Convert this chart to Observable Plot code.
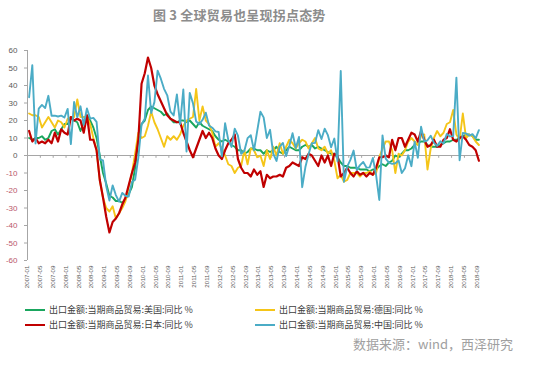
<!DOCTYPE html>
<html><head><meta charset="utf-8">
<script src="https://cdn.jsdelivr.net/npm/d3@7"></script>
<script src="https://cdn.jsdelivr.net/npm/@observablehq/plot@0.6"></script>
<style>
body{margin:0;background:#fff;}
#wrap{position:relative;width:550px;height:369px;overflow:hidden;background:#fff;font-family:"Noto Sans CJK SC","Liberation Sans",sans-serif;}
#chart{position:absolute;left:0;top:0;}
#title{position:absolute;left:153px;top:5px;font-size:13px;font-weight:bold;color:#8c8c8c;white-space:nowrap;letter-spacing:0.2px;}
.leg{position:absolute;font-size:9px;color:#404040;white-space:nowrap;line-height:12px;}
.leg span.sw{display:inline-block;width:20px;height:2px;vertical-align:middle;margin-right:4px;position:relative;top:-1px;}
#source{position:absolute;right:37px;top:334px;font-size:13px;color:#a0a0a0;white-space:nowrap;}
</style>
</head><body>
<div id="wrap">
  <div id="chart"></div>
  <div id="title">图 3 全球贸易也呈现拐点态势</div>
  <div id="legend"></div>
  <div id="source">数据来源：wind，西泽研究</div>
</div>
<script>
// ---- data (monthly YoY %, 2007-01 .. 2018-09) ----
const usa = [
  10, 9, 10, 10, 11, 9, 10, 14, 15, 12, 15, 18,          // 2007
  18, 21, 20, 19, 14, 19, 23, 20, 16, 10, 0, -10,        // 2008
  -16, -23, -24, -26, -26, -27, -25, -22, -18, -7, 9, 18,// 2009
  20, 26, 28, 27, 26, 25, 23, 24, 21, 19, 19, 20,        // 2010
  20, 19, 20, 18, 16, 19, 17, 16, 15, 14, 11, 9,         // 2011
  8, 9, 8, 6, 5, 3, 3, 1, 2, 4, 4, 3,                    // 2012
  3, 1, 3, 2, 3, 5, 2, 1, 3, 5, 4, 3,                    // 2013
  3, 5, 6, 5, 6, 4, 5, 4, 3, 2, 1, 1,                    // 2014
  -1, -4, -6, -6, -7, -7, -7, -8, -8, -8, -9, -8,        // 2015
  -8, -6, -5, -6, -4, -3, 0, -1, 1, 3, 3, 4,             // 2016
  6, 7, 8, 8, 6, 5, 5, 5, 6, 7, 8, 8,                    // 2017
  9, 9, 10, 11, 12, 12, 11, 9, 9                         // 2018
];
const germany = [
  24, 23, 23, 22, 16, 19, 22, 19, 16, 20, 19, 16,
  21, 22, 22, 32, 22, 22, 22, 18, 10, 3, -14, -24,
  -30, -32, -29, -36, -33, -30, -26, -18, -10, 1, 13, 10,
  11, 17, 25, 19, 15, 10, 5, 11, 9, 11, 9, 12,
  17, 20, 21, 22, 38, 20, 28, 20, 18, 13, 5, 7,
  4, 0, -5, -6, -10, -7, -6, 3, -5, 4, 3, -1,
  0, -6, 3, -2, 5, 0, 7, 1, 5, 9, 7, 4,
  7, 9, 8, 4, 7, 10, 4, 3, 5, 1, 3, -3,
  -13, -11, -15, -14, -10, -10, -10, -12, -10, -10, -9, -11,
  -10, -1, 4, 8, 8, 3, -10, 1, 0, 3, 8, 10,
  8, 6, 11, 12, -8, 4, 10, 14, 11, 13, 18, 19,
  26, 12, 9, 24, 10, 12, 11, 8, 6
];
const japan = [
  14, 8, 10, 7, 8, 7, 9, 7, 13, 8, 15, 13,
  12, 22, 20, 21, 20, 13, 23, 9, 9, 3, -14, -24,
  -35, -44, -38, -36, -33, -28, -24, -17, -10, -4, 9, 41,
  47, 56, 50, 40, 35, 31, 27, 23, 21, 20, 19, 19,
  13, 8, 3, -1, 4, 9, 14, 10, 13, 10, 4, 0,
  -2, 3, 7, 9, 12, -2, -7, -10, -10, -12, -8, -11,
  -9, -18, -11, -13, -12, -12, -11, -12, -7, -6, -4, -5,
  -6, -1, -2, 1, 0, -3, -6, 0, -4, 0, -6, 1,
  0, -12, -10, -7, -10, -12, -9, -11, -10, -12, -10, -11,
  -7, -1, -1, 0, -1, 9, 3, 10, 10, 5, 9, 13,
  12, 8, 14, 9, 5, 6, 9, 5, 5, 9, 10, 15,
  9, 8, 10, 11, 9, 6, 5, 3, -3
];
const china = [
  33.3, 51.6, 6.9, 26.8, 28.9, 27.1, 34.1, 22.7, 22.8, 22.3, 22.8, 21.7,
  26.6, 6.5, 30.6, 21.8, 28.1, 17.6, 26.9, 21.1, 21.5, 19.2, -2.2, -2.8,
  -17.5, -25.7, -17.1, -22.6, -26.4, -21.4, -23.0, -23.4, -15.2, -13.8, -1.2, 17.7,
  21.0, 45.7, 24.3, 30.5, 48.5, 43.9, 38.1, 34.4, 25.1, 22.9, 34.9, 17.9,
  37.7, 2.3, 35.8, 29.9, 19.4, 17.9, 20.4, 24.5, 17.1, 15.9, 13.8, 13.4,
  -0.5, 18.4, 8.9, 4.9, 15.3, 11.3, 1.0, 2.7, 9.9, 11.6, 2.9, 14.1,
  25.0, 21.8, 10.0, 14.7, 1.0, -3.1, 5.1, 7.2, -0.3, 5.6, 12.7, 4.3,
  10.6, -18.1, -6.6, 0.9, 7.0, 7.2, 14.5, 9.4, 15.3, 11.6, 4.7, 9.7,
  -3.3, 48.3, -15.0, -6.4, -2.5, 2.8, -8.3, -5.5, -3.7, -6.9, -6.8, -1.4,
  -11.2, -25.4, 11.5, -1.8, -4.1, -4.8, -4.4, -2.8, -10.0, -7.3, 0.1, -6.1,
  7.9, -1.3, 16.4, 8.0, 8.7, 11.3, 7.2, 5.5, 8.1, 6.9, 12.3, 10.9,
  11.1, 44.5, -2.7, 12.9, 12.6, 11.3, 12.2, 9.8, 14.5
];
const xTickLabels = [
  "2007-01","2007-05","2007-09","2008-01","2008-05","2008-09",
  "2009-01","2009-05","2009-09","2010-01","2010-05","2010-09",
  "2011-01","2011-05","2011-09","2012-01","2012-05","2012-09",
  "2013-01","2013-05","2013-09","2014-01","2014-05","2014-09",
  "2015-01","2015-05","2015-09","2016-01","2016-05","2016-09",
  "2017-01","2017-05","2017-09","2018-01","2018-05","2018-09"
];
const yTicks = [-60,-50,-40,-30,-20,-10,0,10,20,30,40,50,60];
const seriesNames = [
  "出口金额:当期商品贸易:美国:同比 %",
  "出口金额:当期商品贸易:德国:同比 %",
  "出口金额:当期商品贸易:日本:同比 %",
  "出口金额:当期商品贸易:中国:同比 %"
];
const seriesColors = ["#1aa65e", "#f5c518", "#c00000", "#4bacc6"];

// ---- chart ----
const N = china.length;
const tickPos = xTickLabels.map((_, i) => i * 4 - 0.5);
const axisColor = "#a6a6a6";
const seriesData = [usa, germany, japan, china];

const lineMarks = seriesData.map((arr, k) =>
  Plot.line(arr, {x: (d, i) => i, y: d => d, stroke: seriesColors[k],
    strokeWidth: k === 2 ? 2.2 : 1.9, strokeLinejoin: "round"}));

const chart = Plot.plot({
  width: 550, height: 300,
  marginTop: 50, marginBottom: 40, marginLeft: 27, marginRight: 70,
  x: {domain: [-0.5, N - 0.5], axis: null},
  y: {domain: [-60, 60], axis: null},
  style: {background: "transparent", fontFamily: "'Liberation Sans', Arial, sans-serif"},
  marks: [
    Plot.ruleX([-0.5], {y1: -60, y2: 60, stroke: axisColor}),
    Plot.axisY(yTicks, {anchor: "left", tickSize: 3, tickPadding: 7, fontSize: 8,
      stroke: axisColor, fill: d => d < 0 ? "#b9566a" : "#595959",
      tickFormat: d => String(d)}),
    Plot.ruleY([0], {stroke: axisColor, strokeWidth: 1}),
    Plot.ruleX(tickPos, {x: d => d, y1: 0, y2: -1.6, stroke: axisColor}),
    Plot.text(xTickLabels, {x: (d, i) => i * 4, text: d => d, frameAnchor: "bottom",
      dy: 5, rotate: -90, textAnchor: "end", fontSize: 6.2, fill: "#595959"}),
    ...lineMarks
  ]
});
document.getElementById("chart").appendChild(chart);

// ---- legend ----
const legPos = [[25, 304], [255, 304], [25, 319], [255, 319]];
const legend = document.getElementById("legend");
seriesNames.forEach((name, k) => {
  const div = document.createElement("div");
  div.className = "leg";
  div.style.left = legPos[k][0] + "px";
  div.style.top = legPos[k][1] + "px";
  const sw = document.createElement("span");
  sw.className = "sw";
  sw.style.background = seriesColors[k];
  div.appendChild(sw);
  div.appendChild(document.createTextNode(name));
  legend.appendChild(div);
});
</script>
</body></html>
